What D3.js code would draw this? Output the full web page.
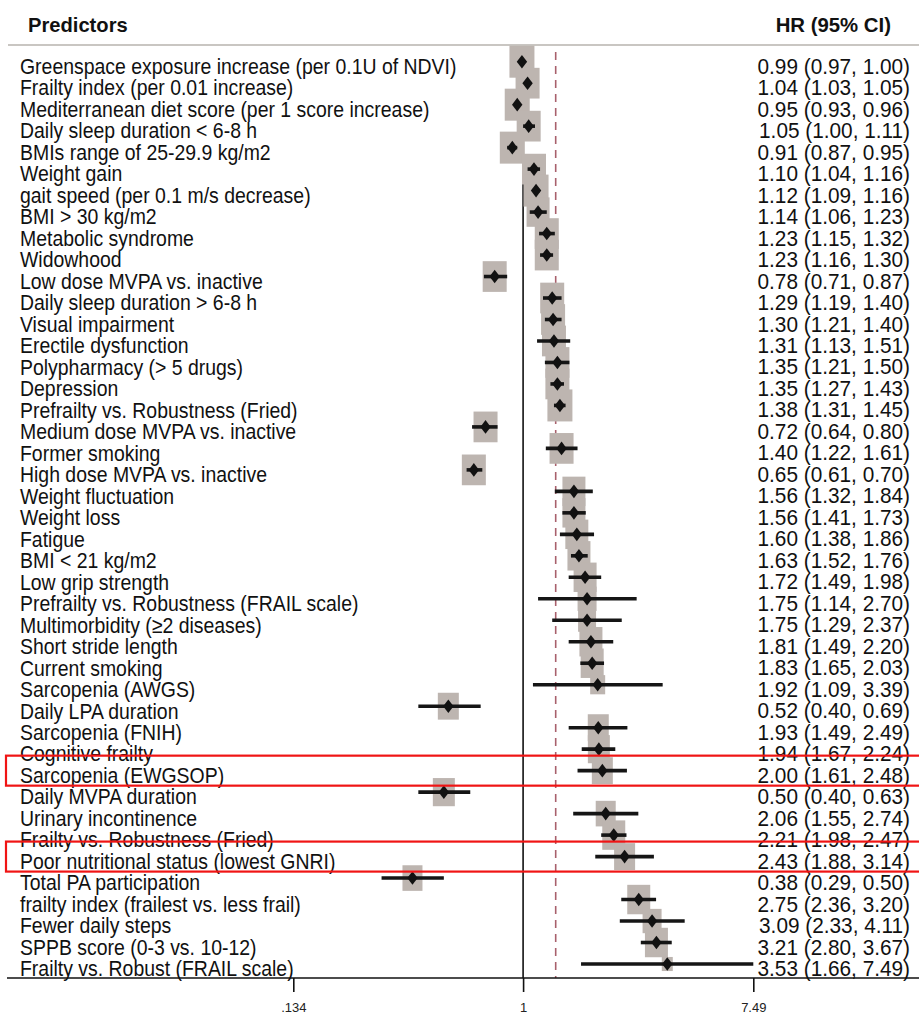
<!DOCTYPE html>
<html>
<head>
<meta charset="utf-8">
<script src="https://cdn.jsdelivr.net/npm/d3@7/dist/d3.min.js"></script>
<style>
  html, body { margin: 0; padding: 0; background: #fff; }
  svg { display: block; }
</style>
</head>
<body>
<script>
// Predictors of outcome: hazard ratios with 95% confidence intervals
const predictors = [
  "Greenspace exposure increase (per 0.1U of NDVI)",
  "Frailty index (per 0.01 increase)",
  "Mediterranean diet score (per 1 score increase)",
  "Daily sleep duration < 6-8 h",
  "BMIs range of 25-29.9 kg/m2",
  "Weight gain",
  "gait speed (per 0.1 m/s decrease)",
  "BMI > 30 kg/m2",
  "Metabolic syndrome",
  "Widowhood",
  "Low dose MVPA vs. inactive",
  "Daily sleep duration > 6-8 h",
  "Visual impairment",
  "Erectile dysfunction",
  "Polypharmacy (> 5 drugs)",
  "Depression",
  "Prefrailty vs. Robustness (Fried)",
  "Medium dose MVPA vs. inactive",
  "Former smoking",
  "High dose MVPA vs. inactive",
  "Weight fluctuation",
  "Weight loss",
  "Fatigue",
  "BMI < 21 kg/m2",
  "Low grip strength",
  "Prefrailty vs. Robustness (FRAIL scale)",
  "Multimorbidity (\u22652 diseases)",
  "Short stride length",
  "Current smoking",
  "Sarcopenia (AWGS)",
  "Daily LPA duration",
  "Sarcopenia (FNIH)",
  "Cognitive frailty",
  "Sarcopenia (EWGSOP)",
  "Daily MVPA duration",
  "Urinary incontinence",
  "Frailty vs. Robustness (Fried)",
  "Poor nutritional status (lowest GNRI)",
  "Total PA participation",
  "frailty index (frailest vs. less frail)",
  "Fewer daily steps",
  "SPPB score (0-3 vs. 10-12)",
  "Frailty vs. Robust (FRAIL scale)"
];

const hr = [0.99, 1.04, 0.95, 1.05, 0.91, 1.10, 1.12, 1.14, 1.23, 1.23,
            0.78, 1.29, 1.30, 1.31, 1.35, 1.35, 1.38, 0.72, 1.40, 0.65,
            1.56, 1.56, 1.60, 1.63, 1.72, 1.75, 1.75, 1.81, 1.83, 1.92,
            0.52, 1.93, 1.94, 2.00, 0.50, 2.06, 2.21, 2.43, 0.38, 2.75,
            3.09, 3.21, 3.53];

const ciLow = [0.97, 1.03, 0.93, 1.00, 0.87, 1.04, 1.09, 1.06, 1.15, 1.16,
               0.71, 1.19, 1.21, 1.13, 1.21, 1.27, 1.31, 0.64, 1.22, 0.61,
               1.32, 1.41, 1.38, 1.52, 1.49, 1.14, 1.29, 1.49, 1.65, 1.09,
               0.40, 1.49, 1.67, 1.61, 0.40, 1.55, 1.98, 1.88, 0.29, 2.36,
               2.33, 2.80, 1.66];

const ciHigh = [1.00, 1.05, 0.96, 1.11, 0.95, 1.16, 1.16, 1.23, 1.32, 1.30,
                0.87, 1.40, 1.40, 1.51, 1.50, 1.43, 1.45, 0.80, 1.61, 0.70,
                1.84, 1.73, 1.86, 1.76, 1.98, 2.70, 2.37, 2.20, 2.03, 3.39,
                0.69, 2.49, 2.24, 2.48, 0.63, 2.74, 2.47, 3.14, 0.50, 3.20,
                4.11, 3.67, 7.49];

// relative weight of each estimate (sets the size of its grey box)
const weights = [2.5, 2.4, 2.5, 2.4, 2.5, 2.4, 2.5, 2.3, 2.4, 2.4,
                 2.4, 2.4, 2.4, 2.4, 2.4, 2.4, 2.5, 2.4, 2.4, 2.4,
                 2.3, 2.3, 2.3, 2.3, 2.3, 1.9, 1.8, 2.3, 2.3, 1.5,
                 2.1, 2.1, 2.2, 2.1, 2.2, 2.0, 2.3, 2.1, 2.0, 2.3,
                 1.9, 2.3, 1.1];

// pooled estimate shown as the dashed reference line
const overallHR = 1.33;

const tickValues = [0.134, 1, 7.49];
const tickLabels = [".134", "1", "7.49"];

// rows outlined in red
const highlighted = ["Sarcopenia (EWGSOP)", "Poor nutritional status (lowest GNRI)"];

const rows = predictors.map((name, i) => ({
  name, hr: hr[i], lo: ciLow[i], hi: ciHigh[i], w: weights[i]
}));

const W = 919, H = 1015;
const svg = d3.select("body").append("svg")
  .attr("width", W).attr("height", H)
  .style("font-family", "'Liberation Sans', Arial, Helvetica, sans-serif");

svg.append("rect").attr("width", W).attr("height", H).attr("fill", "#fff");

const x = d3.scaleLog().domain([0.134, 7.49]).range([293.3, 753.3]);
const y = d3.scalePoint().domain(d3.range(rows.length)).range([61.7, 964]);
const boxSize = d3.scaleLinear().domain([0, 2.5]).range([0, 25]);

const axisY = 978;
const topY = 46;

// header
svg.append("text")
  .attr("transform", "translate(28,31.7) scale(0.96,1)")
  .attr("font-size", 21).attr("font-weight", "bold").attr("fill", "#111")
  .text("Predictors");
svg.append("text")
  .attr("transform", "translate(891,31.7) scale(0.97,1)")
  .attr("text-anchor", "end")
  .attr("font-size", 21).attr("font-weight", "bold").attr("fill", "#111")
  .text("HR (95% CI)");
svg.append("line")
  .attr("x1", 8).attr("x2", W).attr("y1", 45).attr("y2", 45)
  .attr("stroke", "#c9c6c2").attr("stroke-width", 2);

// reference lines
svg.append("line")
  .attr("x1", x(1)).attr("x2", x(1)).attr("y1", topY).attr("y2", axisY)
  .attr("stroke", "#111").attr("stroke-width", 1.6);
svg.append("line")
  .attr("x1", x(overallHR)).attr("x2", x(overallHR)).attr("y1", 52).attr("y2", axisY)
  .attr("stroke", "#a8606c").attr("stroke-width", 1.6)
  .attr("stroke-dasharray", "8,6");

// weight boxes
svg.append("g").selectAll("rect").data(rows).join("rect")
  .attr("x", d => x(d.hr) - boxSize(d.w) / 2)
  .attr("y", (d, i) => y(i) - boxSize(d.w) * 1.28 / 2)
  .attr("width", d => boxSize(d.w))
  .attr("height", d => boxSize(d.w) * 1.28)
  .attr("fill", "#bdb5b0");

// confidence intervals
svg.append("g").selectAll("line").data(rows).join("line")
  .attr("x1", d => x(d.lo)).attr("x2", d => x(d.hi))
  .attr("y1", (d, i) => y(i)).attr("y2", (d, i) => y(i))
  .attr("stroke", "#151515").attr("stroke-width", 3.6);

// point estimates
const diamond = "M0,-6.8L5.2,0L0,6.8L-5.2,0Z";
svg.append("g").selectAll("path").data(rows).join("path")
  .attr("transform", (d, i) => `translate(${x(d.hr)},${y(i)})`)
  .attr("d", diamond)
  .attr("fill", "#111");

// predictor labels
svg.append("g").selectAll("text").data(rows).join("text")
  .attr("transform", (d, i) => `translate(20,${y(i) + 12.3}) scale(0.884,1)`)
  .attr("font-size", 22).attr("fill", "#111")
  .text(d => d.name);

// HR (95% CI) column
const f2 = d3.format(".2f");
svg.append("g").selectAll("text").data(rows).join("text")
  .attr("transform", (d, i) => `translate(910,${y(i) + 12}) scale(0.945,1)`)
  .attr("text-anchor", "end")
  .attr("font-size", 22).attr("fill", "#111")
  .text(d => `${f2(d.hr)} (${f2(d.lo)}, ${f2(d.hi)})`);

// highlighted rows
svg.append("g").selectAll("rect").data(highlighted).join("rect")
  .attr("x", 6)
  .attr("y", d => y(predictors.indexOf(d)) - 15)
  .attr("width", W + 10)
  .attr("height", 30)
  .attr("fill", "none")
  .attr("stroke", "#f01414").attr("stroke-width", 2.2);

// x axis
svg.append("line")
  .attr("x1", 7).attr("x2", W).attr("y1", axisY).attr("y2", axisY)
  .attr("stroke", "#111").attr("stroke-width", 1.6);
const axis = d3.axisBottom(x)
  .tickValues(tickValues)
  .tickFormat((d, i) => tickLabels[i])
  .tickSize(14).tickPadding(11);
const gAxis = svg.append("g").attr("transform", `translate(0,${axisY})`).call(axis);
gAxis.select(".domain").remove();
gAxis.selectAll(".tick line").attr("stroke", "#111").attr("stroke-width", 1.6);
gAxis.selectAll(".tick text")
  .attr("font-size", 13).attr("fill", "#222")
  .attr("font-family", "'Liberation Sans', Arial, sans-serif");
</script>
</body>
</html>
